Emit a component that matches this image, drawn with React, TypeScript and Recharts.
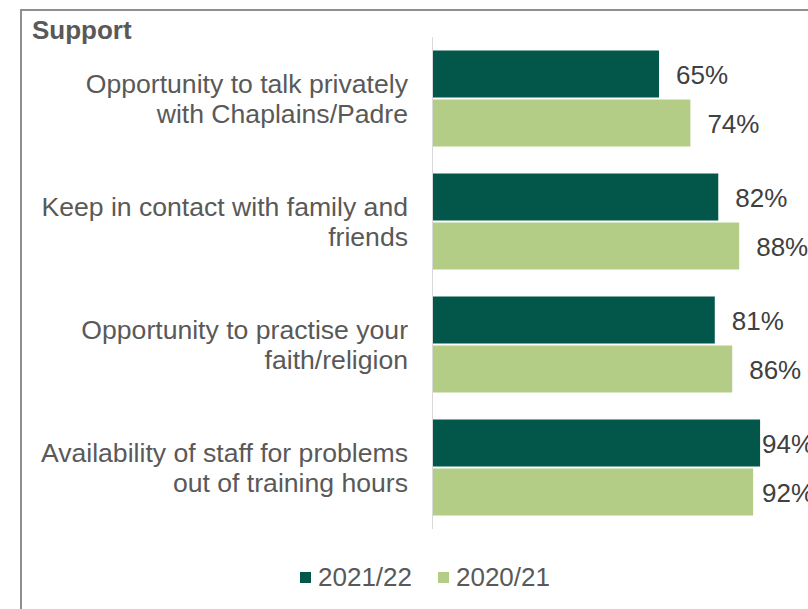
import { BarChart, Bar, XAxis, YAxis, LabelList } from "recharts";

const categories = [
  "Opportunity to talk privately\nwith Chaplains/Padre",
  "Keep in contact with family and\nfriends",
  "Opportunity to practise your\nfaith/religion",
  "Availability of staff for problems\nout of training hours",
];
const year2122 = [65, 82, 81, 94];
const year2021 = [74, 88, 86, 92];
const seriesNames = ["2021/22", "2020/21"];
const seriesColors = ["#02574A", "#B3CD87"];

const data = categories.map((label, i) => ({
  label,
  a: year2122[i],
  b: year2021[i],
}));

const FONT = '"Liberation Sans", Arial, sans-serif';
const LABEL_MAX_X = 762;

function CategoryTick(props: any) {
  const { x, y, payload } = props;
  const lines = String(payload.value).split("\n");
  return (
    <text x={x} y={y} textAnchor="end" fill="#595959" fontSize={26.6} fontFamily={FONT}>
      {lines.map((ln, i) => (
        <tspan key={i} x={x} dy={i === 0 ? -6 : 30}>
          {ln}
        </tspan>
      ))}
    </text>
  );
}

function ValueLabel(props: any) {
  const { x, y, width, height, value } = props;
  const tx = Math.min(x + width + 17, LABEL_MAX_X);
  return (
    <text
      x={tx}
      y={y + height / 2 + 1}
      dy="0.35em"
      textAnchor="start"
      fill="#404040"
      fontSize={26}
      fontFamily={FONT}
    >
      {value + "%"}
    </text>
  );
}

export default function App() {
  return (
    <div
      style={{
        position: "absolute",
        left: 0,
        top: 0,
        width: 808,
        height: 609,
        overflow: "hidden",
        background: "#fff",
        fontFamily: FONT,
      }}
    >
      <div
        style={{
          position: "absolute",
          left: 20,
          top: 9,
          width: 1000,
          height: 1000,
          border: "2px solid #8f8f8f",
        }}
      />
      <div
        style={{
          position: "absolute",
          left: 32,
          top: 15,
          fontSize: 26,
          lineHeight: "30px",
          fontWeight: "bold",
          color: "#595959",
        }}
      >
        Support
      </div>

      <div style={{ position: "absolute", left: 0, top: 0 }}>
        <BarChart
          width={808}
          height={609}
          data={data}
          layout="vertical"
          margin={{ top: 37, right: 27, bottom: 80, left: 0 }}
          barCategoryGap={13.5}
          barGap={2}
        >
          <XAxis type="number" domain={[0, 100]} hide />
          <YAxis
            type="category"
            dataKey="label"
            width={432.5}
            tickSize={0}
            tickMargin={24.5}
            tickLine={false}
            axisLine={{ stroke: "#d9d9d9", strokeWidth: 1 }}
            tick={<CategoryTick />}
            interval={0}
          />
          <Bar dataKey="a" name={seriesNames[0]} fill={seriesColors[0]} isAnimationActive={false}>
            <LabelList dataKey="a" content={<ValueLabel />} />
          </Bar>
          <Bar dataKey="b" name={seriesNames[1]} fill={seriesColors[1]} isAnimationActive={false}>
            <LabelList dataKey="b" content={<ValueLabel />} />
          </Bar>
        </BarChart>
      </div>

      <div
        style={{
          position: "absolute",
          left: 300,
          top: 562,
          display: "flex",
          alignItems: "center",
          gap: 26,
          fontSize: 26,
          lineHeight: "30px",
          color: "#595959",
        }}
      >
        {seriesNames.map((n, i) => (
          <div key={n} style={{ display: "flex", alignItems: "center" }}>
            <div
              style={{
                width: 11,
                height: 11,
                background: seriesColors[i],
                marginRight: 7,
              }}
            />
            <span>{n}</span>
          </div>
        ))}
      </div>
    </div>
  );
}
